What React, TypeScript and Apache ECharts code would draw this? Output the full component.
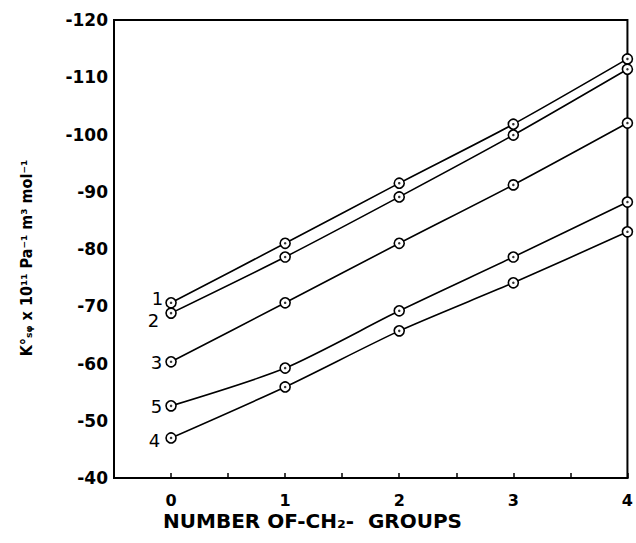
import React, { useEffect, useRef } from "react";
import * as echarts from "echarts";

const xValues = [0, 1, 2, 3, 4];
const series1 = [-70.6, -81.0, -91.5, -101.8, -113.2];
const series2 = [-68.8, -78.6, -89.1, -99.9, -111.4];
const series3 = [-60.3, -70.6, -81.0, -91.2, -102.0];
const series5 = [-52.6, -59.2, -69.2, -78.6, -88.2];
const series4 = [-47.0, -55.9, -65.7, -74.1, -83.0];
const seriesNames = ["1", "2", "3", "5", "4"];
const yTicks = [-120, -110, -100, -90, -80, -70, -60, -50, -40];
const xTickLabels = ["0", "1", "2", "3", "4"];

const FONT = "DejaVu Sans";

export default function App() {
  const ref = useRef<HTMLDivElement>(null);
  useEffect(() => {
    if (!ref.current) return;
    const chart = echarts.init(ref.current, null, { renderer: "svg" });
    const all = [series1, series2, series3, series5, series4];
    const labelOffsets: number[][] = [[1, -4], [-3, 7], [0, 1], [0, 1], [-2, 3]];
    const lineSeries = all.map((vals, si) => ({
      type: "line",
      name: seriesNames[si],
      smooth: 0.25,
      symbol: "circle",
      symbolSize: 10,
      lineStyle: { color: "#000", width: 1.6 },
      itemStyle: { color: "#fff", borderColor: "#000", borderWidth: 1.6 },
      z: 2,
      data: vals.map((v, i) =>
        i === 0
          ? {
              value: [xValues[i], v],
              label: {
                show: true,
                position: "left",
                distance: 3,
                offset: labelOffsets[si],
                formatter: seriesNames[si],
                color: "#000",
                fontSize: 18,
                fontFamily: FONT,
              },
            }
          : { value: [xValues[i], v] }
      ),
    }));
    const dotSeries = all.map((vals) => ({
      type: "scatter",
      symbol: "circle",
      symbolSize: 2.5,
      itemStyle: { color: "#000" },
      z: 3,
      silent: true,
      data: vals.map((v, i) => [xValues[i], v]),
    }));
    chart.setOption({
      animation: false,
      grid: {
        left: 114,
        right: 2,
        top: 20,
        bottom: 65,
        show: true,
        borderColor: "#000",
        borderWidth: 2,
        backgroundColor: "transparent",
      },
      xAxis: {
        type: "value",
        min: -0.5,
        max: 4,
        interval: 0.5,
        axisLine: { show: true, onZero: false, lineStyle: { color: "#000", width: 2 } },
        axisTick: { show: true, inside: true, length: 5, lineStyle: { color: "#000", width: 1.5 } },
        splitLine: { show: false },
        axisLabel: {
          color: "#000",
          fontSize: 16,
          fontWeight: "bold",
          fontFamily: FONT,
          margin: 14,
          showMaxLabel: true,
          formatter: (v: number) => {
            const idx = xValues.indexOf(v);
            return idx >= 0 ? xTickLabels[idx] : "";
          },
        },
      },
      yAxis: {
        type: "value",
        inverse: true,
        min: yTicks[0],
        max: yTicks[yTicks.length - 1],
        interval: 10,
        axisLine: { show: true, onZero: false, lineStyle: { color: "#000", width: 2 } },
        axisTick: { show: false },
        splitLine: { show: false },
        axisLabel: {
          color: "#000",
          fontSize: 17,
          fontWeight: "bold",
          fontFamily: FONT,
          margin: 6,
        },
        name: "K°ₛᵩ x 10¹¹ Pa⁻¹ m³ mol⁻¹",
        nameLocation: "middle",
        nameRotate: 90,
        nameGap: 80,
        nameTextStyle: {
          color: "#000",
          fontSize: 16,
          fontWeight: "bold",
          fontFamily: "DejaVu Sans Condensed, DejaVu Sans",
          padding: [0, 18, 0, 0],
        },
      },
      graphic: [
        {
          type: "text",
          left: 163,
          top: 511,
          style: {
            text: "NUMBER OF-CH₂-  GROUPS",
            fill: "#000",
            font: `bold 20px "${FONT}"`,
          },
        },
      ],
      series: [...lineSeries, ...dotSeries],
    });
    return () => chart.dispose();
  }, []);
  return <div ref={ref} style={{ width: 636, height: 543, position: "absolute", left: 0, top: 0, background: "#fff" }} />;
}
